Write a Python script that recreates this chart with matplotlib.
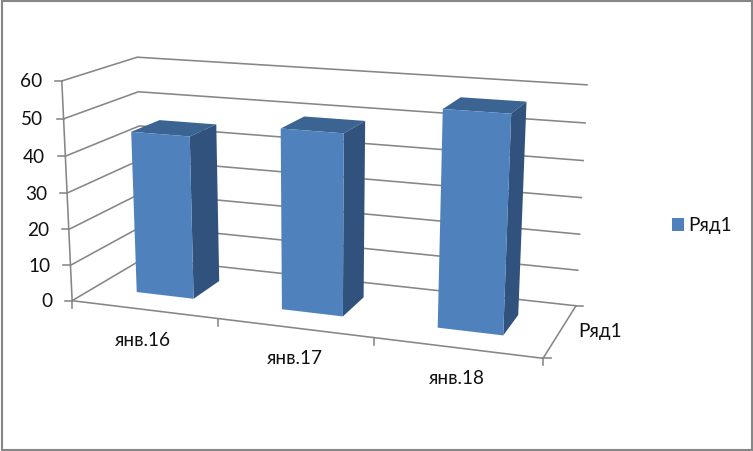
import matplotlib
matplotlib.use("Agg")
import matplotlib.pyplot as plt
import numpy as np
from matplotlib.lines import Line2D
from matplotlib.patches import Patch, Rectangle

W, H = 753, 451

categories = ["янв.16", "янв.17", "янв.18"]
values = [45, 49, 57]
series_name = "Ряд1"
z_ticks = [0, 10, 20, 30, 40, 50, 60]

GRID = "#868686"
FRONT = "#4f81bd"
TOP = "#3b6492"
SIDE = "#31527c"
NONE = (0, 0, 0, 0)

plt.rcParams["font.family"] = ["Lato", "Open Sans", "DejaVu Sans"]
plt.rcParams["font.size"] = 13.7
plt.rcParams["text.color"] = "#111111"

# corners of the 3d box (x in categories, y depth 0..1, z value) -> where they sit in the image
box_xyz = np.array([[0, 0, 0], [3, 0, 0], [3, 1, 0], [0, 1, 0],
                    [0, 0, 60], [0, 1, 60], [3, 1, 60]], dtype=float)
box_px = np.array([[72, 300], [543, 359], [576, 305], [144, 259],
                   [62, 81], [137, 57], [587, 85]], dtype=float)


def fit_camera(xyz, uv):
    scale = np.diag([1 / 3, 1, 1 / 60, 1])
    rows = []
    for p, (u, v) in zip(xyz, uv):
        h = scale @ np.append(p, 1)
        rows.append(np.r_[h, 0, 0, 0, 0, -u * h])
        rows.append(np.r_[0, 0, 0, 0, h, -v * h])
    P = np.linalg.svd(np.array(rows))[2][-1].reshape(3, 4) @ scale
    P = P / P[2, 3]
    # third row is only depth, zorder is set by hand
    return np.vstack([P[0], P[1], [0, 1, 0, 0], P[2]])


M = fit_camera(box_xyz, box_px)


def to_px(x, y, z):
    a = M @ np.array([x, y, z, 1.0])
    return a[0] / a[3], a[1] / a[3]


def fx(x):
    return x / W


def fy(y):
    return 1 - y / H


fig = plt.figure(figsize=(W / 100, H / 100), dpi=100, facecolor="white")
ax = fig.add_subplot(projection="3d", computed_zorder=False, proj_type="ortho")
ax.set_axis_off()
ax.apply_aspect = lambda position=None: None
ax.get_proj = lambda: M
ax.set_position([0, 0, 1, 1])
ax.viewLim.intervalx = (0, W)
ax.viewLim.intervaly = (H, 0)

nx = len(categories)
line = dict(color=GRID, lw=1.15, zorder=1)

# walls
for z in z_ticks:
    ax.plot([0, 0, nx], [0, 1, 1], [z, z, z], **line)
# floor and axes
ax.plot([0, nx, nx], [0, 0, 1], [0, 0, 0], **line)
ax.plot([0, 0], [0, 0], [0, 60], **line)

# bars
bar_w = 0.4
bar_d = 0.4
xs = np.arange(nx) + 0.5 - bar_w / 2
ys = np.full(nx, 0.5 - bar_d / 2)
zs = np.zeros(nx)
# face order in bar3d: bottom, top, front, back, left, right
face_colors = [NONE, TOP, FRONT, NONE, NONE, SIDE] * nx
ax.bar3d(xs, ys, zs, bar_w, bar_d, values, color=face_colors, shade=False,
         linewidth=0, zorder=3)

# ticks and their labels
for z in z_ticks:
    u, v = to_px(0, 0, z)
    fig.add_artist(Line2D([fx(u - 7), fx(u)], [fy(v), fy(v)], color=GRID, lw=1.15))
    fig.text(fx(u - 20), fy(v + 1), str(z), ha="right", va="center")

for i in range(nx + 1):
    u, v = to_px(i, 0, 0)
    fig.add_artist(Line2D([fx(u), fx(u)], [fy(v), fy(v + 7)], color=GRID, lw=1.15))

for c, (u, v) in zip(categories, [(143, 340), (295, 358), (457, 378)]):
    fig.text(fx(u), fy(v), c, ha="center", va="center")

u, v = to_px(nx, 0, 0)
fig.add_artist(Line2D([fx(u), fx(u + 8)], [fy(v), fy(v)], color=GRID, lw=1.15))
u, v = to_px(nx, 1, 0)
fig.add_artist(Line2D([fx(u), fx(u + 7)], [fy(v), fy(v)], color=GRID, lw=1.15))
fig.text(fx(600), fy(332), series_name, ha="center", va="center")

ax.legend(handles=[Patch(facecolor=FRONT, label=series_name)],
          loc="center left", bbox_to_anchor=(fx(672), fy(226)),
          bbox_transform=fig.transFigure, frameon=False,
          handlelength=0.65, handleheight=0.65, handletextpad=0.2,
          borderpad=0, borderaxespad=0)

# outer frame of the chart
fig.add_artist(Rectangle((fx(2), fy(450)), fx(750), fy(1) - fy(450),
                         transform=fig.transFigure, fill=False, edgecolor=GRID, lw=1.5))

fig.savefig("out.png", dpi=100)
